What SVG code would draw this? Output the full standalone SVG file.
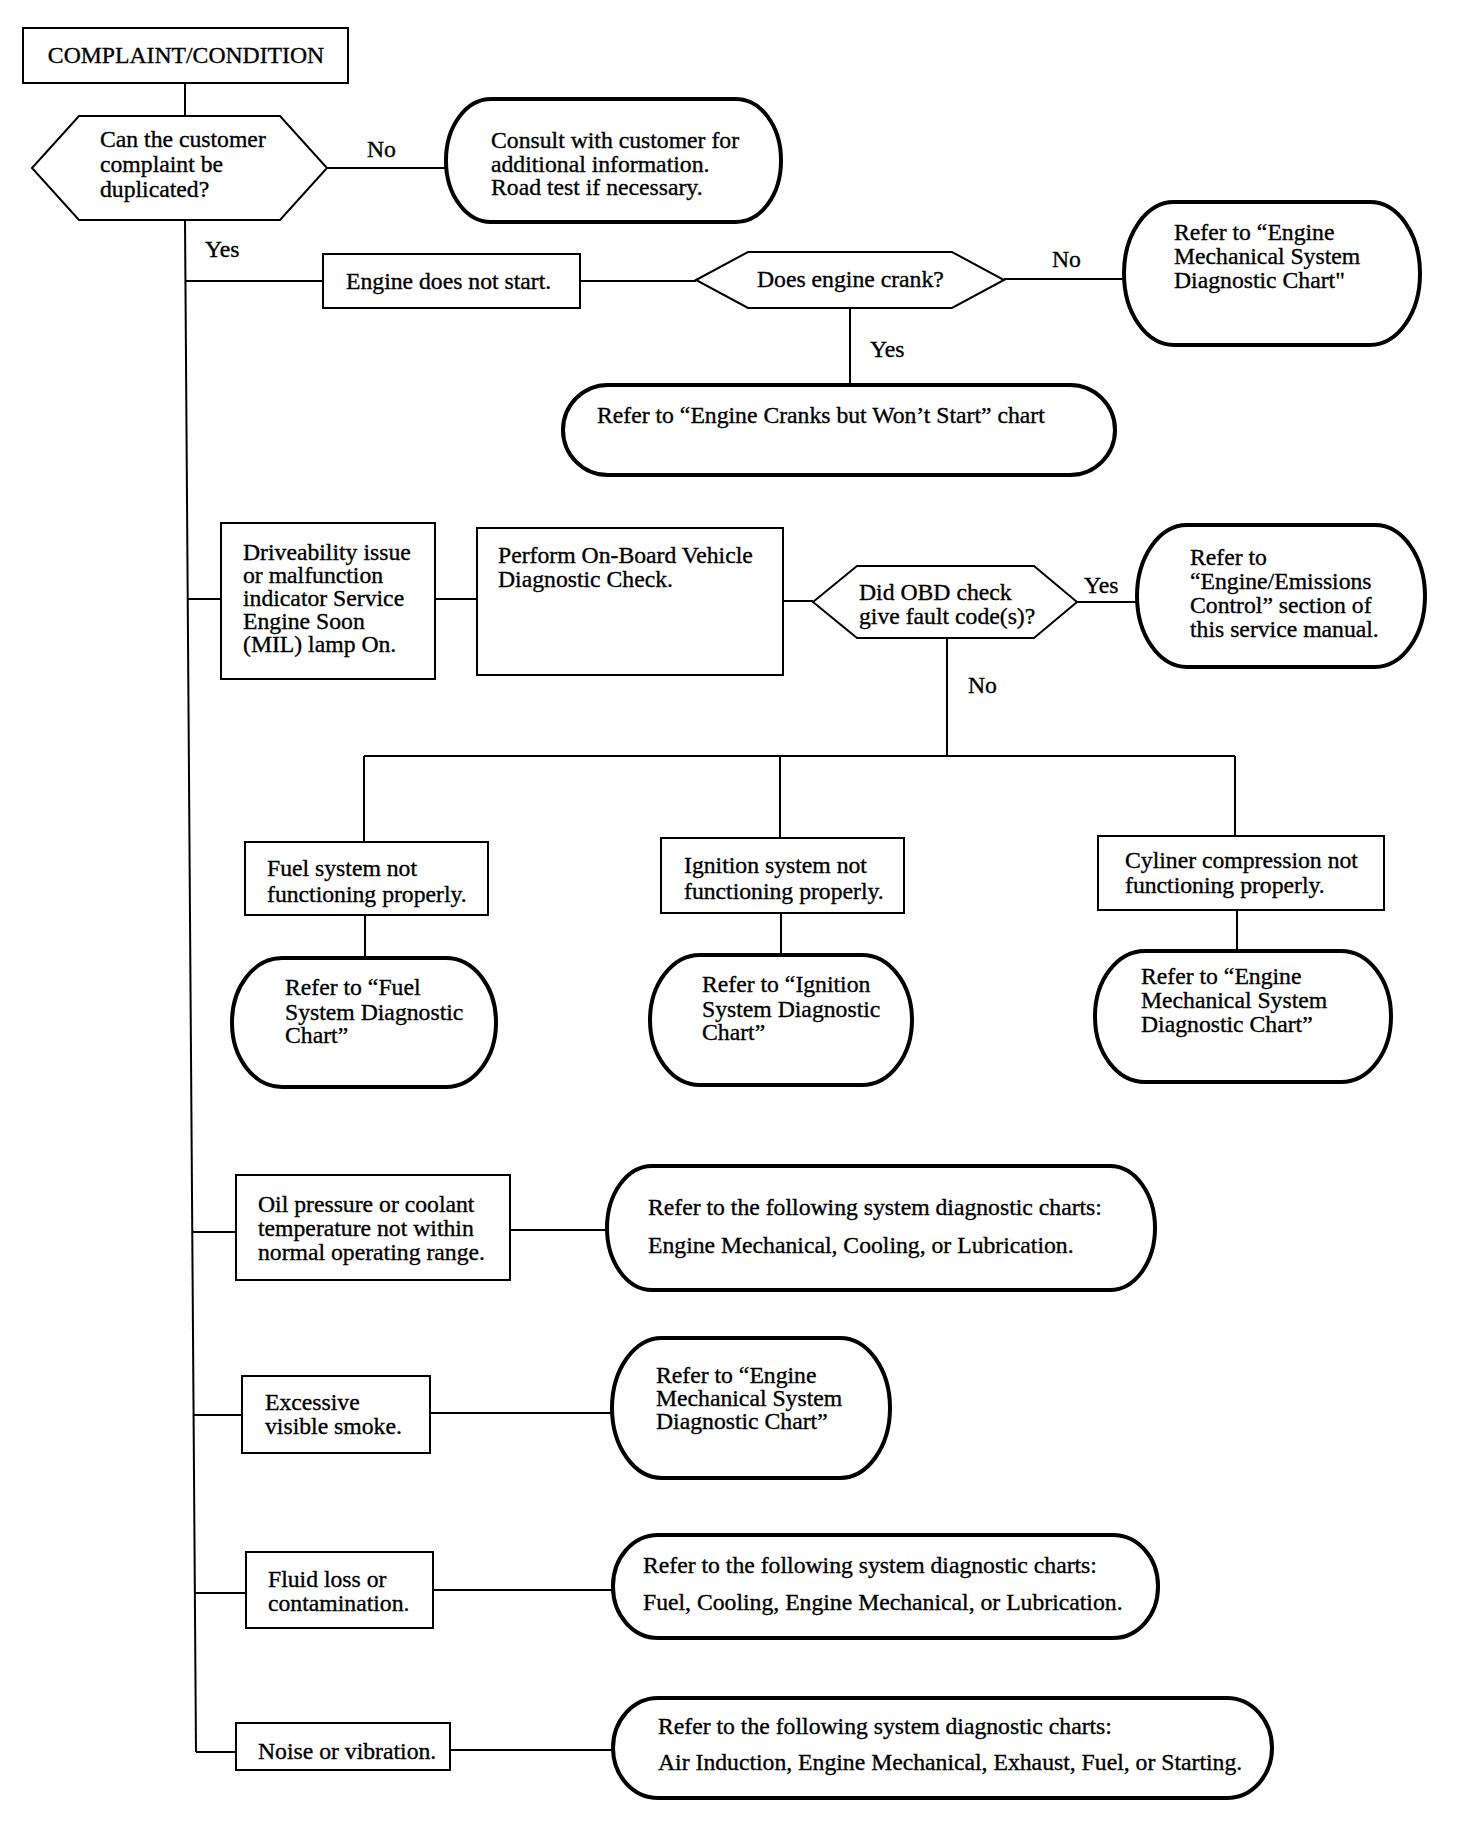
<svg xmlns="http://www.w3.org/2000/svg" width="1472" height="1840" viewBox="0 0 1472 1840">
<style>
.bg{fill:#fff}
.box{fill:#fff;stroke:#000;stroke-width:2}
.term{fill:#fff;stroke:#000;stroke-width:4}
.dec{fill:#fff;stroke:#000;stroke-width:2}
.con line{stroke:#000;stroke-width:2;fill:none}
text{font-family:"Liberation Serif","Times New Roman",serif;font-size:23.7px;fill:#000;stroke:#000;stroke-width:0.35}
.c{text-anchor:middle}
</style>
<rect class="bg" x="0" y="0" width="1472" height="1840"/>
<g id="connectors" class="con">
<line x1="185" y1="83" x2="185" y2="116"/>
<line x1="327" y1="168" x2="446" y2="168"/>
<line x1="185" y1="220" x2="196" y2="1752"/>
<line x1="185" y1="281" x2="323" y2="281"/>
<line x1="580" y1="281" x2="696" y2="281"/>
<line x1="1004" y1="279" x2="1124" y2="279"/>
<line x1="850" y1="308" x2="850" y2="385"/>
<line x1="188" y1="599" x2="221" y2="599"/>
<line x1="435" y1="599" x2="477" y2="599"/>
<line x1="783" y1="601" x2="813" y2="601"/>
<line x1="1077" y1="602" x2="1137" y2="602"/>
<line x1="947" y1="638" x2="947" y2="756"/>
<line x1="364" y1="756" x2="1235" y2="756"/>
<line x1="364" y1="756" x2="364" y2="842"/>
<line x1="780" y1="756" x2="780" y2="838"/>
<line x1="1235" y1="756" x2="1235" y2="836"/>
<line x1="365" y1="915" x2="365" y2="958"/>
<line x1="781" y1="913" x2="781" y2="955"/>
<line x1="1237" y1="910" x2="1237" y2="951"/>
<line x1="192" y1="1232" x2="236" y2="1232"/>
<line x1="510" y1="1230" x2="607" y2="1230"/>
<line x1="194" y1="1415" x2="242" y2="1415"/>
<line x1="430" y1="1413" x2="612" y2="1413"/>
<line x1="195" y1="1593" x2="246" y2="1593"/>
<line x1="433" y1="1590" x2="613" y2="1590"/>
<line x1="196" y1="1752" x2="236" y2="1752"/>
<line x1="450" y1="1750" x2="613" y2="1750"/>
<text x="367" y="157">No</text>
<text x="205" y="257">Yes</text>
<text x="1052" y="267">No</text>
<text x="870" y="357">Yes</text>
<text x="1084" y="593">Yes</text>
<text x="968" y="693">No</text>
</g>
<g id="complaint">
<rect class="box" x="23" y="28" width="325" height="55"/>
<text class="c" x="186" y="63">COMPLAINT/CONDITION</text>
</g>
<g id="q-duplicate">
<polygon class="dec" points="32,168 79,116 280,116 327,168 280,220 79,220"/>
<text x="100" y="147">Can the customer</text>
<text x="100" y="172">complaint be</text>
<text x="100" y="197">duplicated?</text>
</g>
<g id="consult">
<rect class="term" x="446" y="99" width="335" height="123" rx="45" ry="61"/>
<text x="491" y="148">Consult with customer for</text>
<text x="491" y="172">additional information.</text>
<text x="491" y="195">Road test if necessary.</text>
</g>
<g id="no-start">
<rect class="box" x="323" y="254" width="257" height="54"/>
<text x="346" y="289">Engine does not start.</text>
</g>
<g id="q-crank">
<polygon class="dec" points="696,280 748,252 952,252 1004,280 952,308 748,308"/>
<text x="757" y="287">Does engine crank?</text>
</g>
<g id="ref-engmech-1">
<rect class="term" x="1124" y="202" width="296" height="143" rx="50" ry="71"/>
<text x="1174" y="240">Refer to “Engine</text>
<text x="1174" y="264">Mechanical System</text>
<text x="1174" y="288">Diagnostic Chart"</text>
</g>
<g id="ref-cranks">
<rect class="term" x="563" y="385" width="552" height="90" rx="45" ry="45"/>
<text x="597" y="423">Refer to “Engine Cranks but Won’t Start” chart</text>
</g>
<g id="driveability">
<rect class="box" x="221" y="523" width="214" height="156"/>
<text x="243" y="560">Driveability issue</text>
<text x="243" y="583">or malfunction</text>
<text x="243" y="606">indicator Service</text>
<text x="243" y="629">Engine Soon</text>
<text x="243" y="652">(MIL) lamp On.</text>
</g>
<g id="obd-check">
<rect class="box" x="477" y="528" width="306" height="147"/>
<text x="498" y="563">Perform On-Board Vehicle</text>
<text x="498" y="587">Diagnostic Check.</text>
</g>
<g id="q-obd">
<polygon class="dec" points="813,602 857,566 1034,566 1077,602 1034,638 857,638"/>
<text x="859" y="600">Did OBD check</text>
<text x="859" y="624">give fault code(s)?</text>
</g>
<g id="ref-emissions">
<rect class="term" x="1137" y="525" width="288" height="142" rx="50" ry="71"/>
<text x="1190" y="565">Refer to</text>
<text x="1190" y="589">“Engine/Emissions</text>
<text x="1190" y="613">Control” section of</text>
<text x="1190" y="637">this service manual.</text>
</g>
<g id="fuel">
<rect class="box" x="245" y="842" width="243" height="73"/>
<text x="267" y="876">Fuel system not</text>
<text x="267" y="902">functioning properly.</text>
</g>
<g id="ignition">
<rect class="box" x="661" y="838" width="243" height="75"/>
<text x="684" y="873">Ignition system not</text>
<text x="684" y="899">functioning properly.</text>
</g>
<g id="cylinder">
<rect class="box" x="1098" y="836" width="286" height="74"/>
<text x="1125" y="868">Cyliner compression not</text>
<text x="1125" y="893">functioning properly.</text>
</g>
<g id="ref-fuel">
<rect class="term" x="232" y="958" width="264" height="129" rx="50" ry="64"/>
<text x="285" y="995">Refer to “Fuel</text>
<text x="285" y="1020">System Diagnostic</text>
<text x="285" y="1043">Chart”</text>
</g>
<g id="ref-ignition">
<rect class="term" x="650" y="955" width="262" height="130" rx="50" ry="65"/>
<text x="702" y="992">Refer to “Ignition</text>
<text x="702" y="1017">System Diagnostic</text>
<text x="702" y="1040">Chart”</text>
</g>
<g id="ref-engmech-2">
<rect class="term" x="1095" y="951" width="296" height="131" rx="50" ry="65"/>
<text x="1141" y="984">Refer to “Engine</text>
<text x="1141" y="1008">Mechanical System</text>
<text x="1141" y="1032">Diagnostic Chart”</text>
</g>
<g id="oil">
<rect class="box" x="236" y="1175" width="274" height="105"/>
<text x="258" y="1212">Oil pressure or coolant</text>
<text x="258" y="1236">temperature not within</text>
<text x="258" y="1260">normal operating range.</text>
</g>
<g id="ref-oil">
<rect class="term" x="607" y="1166" width="548" height="124" rx="45" ry="62"/>
<text x="648" y="1215">Refer to the following system diagnostic charts:</text>
<text x="648" y="1253">Engine Mechanical, Cooling, or Lubrication.</text>
</g>
<g id="smoke">
<rect class="box" x="242" y="1376" width="188" height="77"/>
<text x="265" y="1410">Excessive</text>
<text x="265" y="1434">visible smoke.</text>
</g>
<g id="ref-smoke">
<rect class="term" x="612" y="1338" width="278" height="140" rx="50" ry="70"/>
<text x="656" y="1383">Refer to “Engine</text>
<text x="656" y="1406">Mechanical System</text>
<text x="656" y="1429">Diagnostic Chart”</text>
</g>
<g id="fluid">
<rect class="box" x="246" y="1552" width="187" height="76"/>
<text x="268" y="1587">Fluid loss or</text>
<text x="268" y="1611">contamination.</text>
</g>
<g id="ref-fluid">
<rect class="term" x="613" y="1535" width="545" height="103" rx="45" ry="51"/>
<text x="643" y="1573">Refer to the following system diagnostic charts:</text>
<text x="643" y="1610">Fuel, Cooling, Engine Mechanical, or Lubrication.</text>
</g>
<g id="noise">
<rect class="box" x="236" y="1723" width="214" height="47"/>
<text x="258" y="1759">Noise or vibration.</text>
</g>
<g id="ref-noise">
<rect class="term" x="613" y="1698" width="659" height="100" rx="45" ry="50"/>
<text x="658" y="1734">Refer to the following system diagnostic charts:</text>
<text x="658" y="1770">Air Induction, Engine Mechanical, Exhaust, Fuel, or Starting.</text>
</g>
</svg>
